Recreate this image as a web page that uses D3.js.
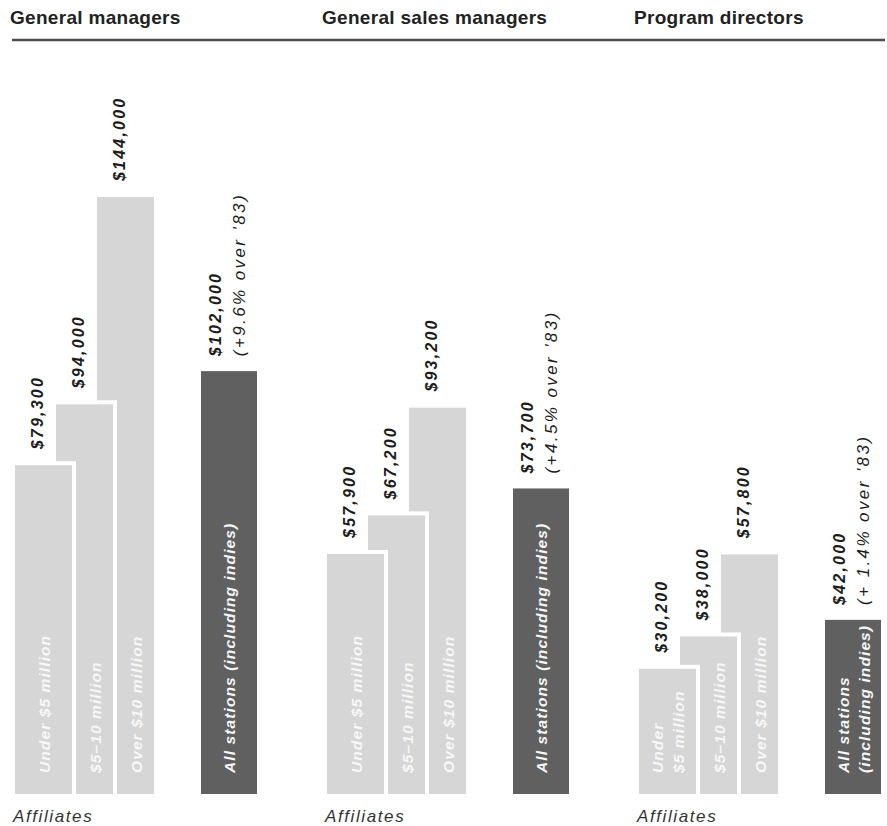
<!DOCTYPE html>
<html>
<head>
<meta charset="utf-8">
<script src="https://cdn.jsdelivr.net/npm/d3@7"></script>
<style>
  html, body { margin: 0; padding: 0; background: #fff; }
  svg { display: block; }
  text { font-family: "Liberation Sans", Arial, Helvetica, sans-serif; }
</style>
</head>
<body>
<svg id="chart" width="887" height="826"></svg>
<script>
// ---- data ----
const groups = ["General managers", "General sales managers", "Program directors"];
const affiliateCategories = ["Under $5 million", "$5–10 million", "Over $10 million"];
const affiliateValues = [
  [79300, 94000, 144000],
  [57900, 67200, 93200],
  [30200, 38000, 57800]
];
const allStationsValues = [102000, 73700, 42000];
const allStationsChange = ["(+9.6% over '83)", "(+4.5% over '83)", "(+ 1.4% over '83)"];
const affiliateBarLabels = [
  [["Under $5 million"], ["$5–10 million"], ["Over $10 million"]],
  [["Under $5 million"], ["$5–10 million"], ["Over $10 million"]],
  [["Under", "$5 million"], ["$5–10 million"], ["Over $10 million"]]
];
const allStationsLabels = [
  ["All stations (including indies)"],
  ["All stations (including indies)"],
  ["All stations", "(including indies)"]
];
const footLabel = "Affiliates";

// ---- layout ----
const W = 887, H = 826;
const baseY = 794;
const barW = 57, allW = 56, halo = 4, allOffset = 186;
const lightFill = "#d6d6d6", darkFill = "#606060";

const svg = d3.select("#chart");

const y = d3.scaleLinear().domain([0, 144000]).range([baseY, 197]);
const groupX = d3.scaleBand().domain(groups).range([15, 15 + 312 * 3]);
const subX = d3.scalePoint().domain(affiliateCategories).range([0, 82]);
const fmt = v => "$" + d3.format(",")(v);

// header
svg.selectAll("text.head").data(groups).join("text")
  .attr("class", "head")
  .attr("x", g => groupX(g) - 5)
  .attr("y", 24)
  .attr("font-size", 19)
  .attr("font-weight", "bold")
  .attr("letter-spacing", 0.3)
  .attr("fill", "#222")
  .text(g => g);

svg.append("line")
  .attr("x1", 12).attr("x2", 885)
  .attr("y1", 40).attr("y2", 40)
  .attr("stroke", "#4d4d4d").attr("stroke-width", 2.5);

groups.forEach((g, gi) => {
  const gx = groupX(g);
  const G = svg.append("g");
  const bars = affiliateCategories.map((c, i) => ({
    cat: c, value: affiliateValues[gi][i], x: gx + subX(c), lines: affiliateBarLabels[gi][i], i
  }));
  bars.forEach((b, i) => {
    b.visLeft = i === 0 ? b.x : bars[i - 1].x + barW + halo;
    b.visCenter = (b.visLeft + b.x + barW) / 2;
  });

  // draw back to front: last bar first
  const order = bars.slice().reverse();
  order.forEach(b => {
    G.append("rect")
      .attr("x", b.x).attr("y", y(b.value) - halo)
      .attr("width", barW + halo).attr("height", baseY - y(b.value) + halo)
      .attr("fill", "#fff");
    G.append("rect")
      .attr("x", b.x).attr("y", y(b.value))
      .attr("width", barW).attr("height", baseY - y(b.value))
      .attr("fill", lightFill);
  });

  // inside labels
  bars.forEach(b => {
    const n = b.lines.length;
    b.lines.forEach((ln, li) => {
      const bx = b.visCenter + 6 - (n - 1) * 21 / 2 + li * 21;
      G.append("text")
        .attr("transform", `translate(${bx},${baseY - 21}) rotate(-90)`)
        .attr("font-size", 15.5).attr("font-weight", "bold").attr("font-style", "italic")
        .attr("letter-spacing", 1.1)
        .attr("fill", "#f7f7f7")
        .text(ln);
    });
  });

  // value labels above bars
  bars.forEach(b => {
    G.append("text")
      .attr("transform", `translate(${b.x + 28},${y(b.value) - 16}) rotate(-90)`)
      .attr("font-size", 16).attr("font-weight", "bold").attr("font-style", "italic")
      .attr("letter-spacing", 2.2)
      .attr("fill", "#1c1c1c")
      .text(fmt(b.value));
  });

  // All stations bar
  const ax = gx + allOffset;
  const av = allStationsValues[gi];
  G.append("rect")
    .attr("x", ax).attr("y", y(av))
    .attr("width", allW).attr("height", baseY - y(av))
    .attr("fill", darkFill);
  const aLines = allStationsLabels[gi];
  const ac = ax + allW / 2;
  aLines.forEach((ln, li) => {
    const n = aLines.length;
    const bx = ac + 6 - (n - 1) * 21 / 2 + li * 21;
    G.append("text")
      .attr("transform", `translate(${bx},${baseY - 21}) rotate(-90)`)
      .attr("font-size", 15.5).attr("font-weight", "bold").attr("font-style", "italic")
      .attr("letter-spacing", 1.1)
      .attr("fill", "#f7f7f7")
      .text(ln);
  });
  G.append("text")
    .attr("transform", `translate(${ax + 20},${y(av) - 15}) rotate(-90)`)
    .attr("font-size", 16).attr("font-weight", "bold").attr("font-style", "italic")
    .attr("letter-spacing", 2.2)
    .attr("fill", "#1c1c1c")
    .text(fmt(av));
  G.append("text")
    .attr("transform", `translate(${ax + 44},${y(av) - 15}) rotate(-90)`)
    .attr("font-size", 17).attr("font-style", "italic")
    .attr("letter-spacing", 2.4)
    .attr("fill", "#1c1c1c")
    .text(allStationsChange[gi]);

  // footer
  G.append("text")
    .attr("x", gx - 2).attr("y", 822)
    .attr("font-size", 17).attr("font-style", "italic")
    .attr("letter-spacing", 1.6)
    .attr("fill", "#333")
    .text(footLabel);
});
</script>
</body>
</html>
